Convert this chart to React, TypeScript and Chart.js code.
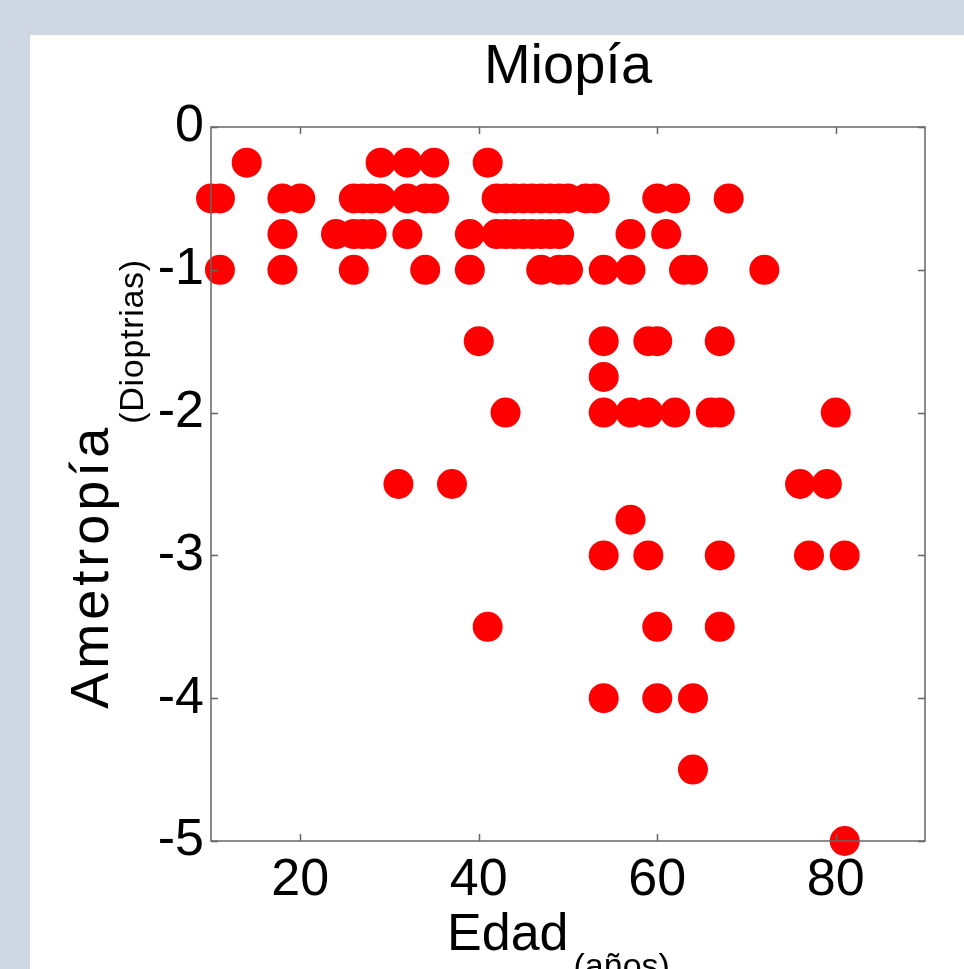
import { useEffect, useRef } from 'react';
import { Chart, registerables } from 'chart.js';

Chart.register(...registerables);

// ---- Text ----
const TITLE = 'Miopía';
const X_LABEL = 'Edad';
const X_SUB = '(años)';
const Y_LABEL = 'Ametropía';
const Y_SUB = '(Dioptrias)';

// ---- Axes ----
const X_MIN = 10;
const X_MAX = 90;
const Y_MIN = -5;
const Y_MAX = 0;
const X_TICKS = [20, 40, 60, 80];
const Y_TICKS = [0, -1, -2, -3, -4, -5];

// ---- Data: ametropía level (D) and the ages (años) observed at it ----
const edadA025 = [14, 29, 32, 35, 41];
const edadA050 = [10, 11, 18, 20, 26, 27, 28, 29, 32, 34, 35, 42, 43, 44, 45, 46, 47, 48, 49, 50, 52, 53, 60, 62, 68];
const edadA075 = [18, 24, 26, 27, 28, 32, 39, 42, 43, 44, 45, 46, 47, 48, 49, 57, 61];
const edadA100 = [11, 18, 26, 34, 39, 47, 49, 50, 54, 57, 63, 64, 72];
const edadA150 = [40, 54, 59, 60, 67];
const edadA175 = [54];
const edadA200 = [43, 54, 57, 59, 62, 66, 67, 80];
const edadA250 = [31, 37, 76, 79];
const edadA275 = [57];
const edadA300 = [54, 59, 67, 77, 81];
const edadA350 = [41, 60, 67];
const edadA400 = [54, 60, 64];
const edadA450 = [64];
const edadA500 = [81];

const niveles = [-0.25, -0.5, -0.75, -1, -1.5, -1.75, -2, -2.5, -2.75, -3, -3.5, -4, -4.5, -5];
const edadesPorNivel = [
  edadA025, edadA050, edadA075, edadA100, edadA150, edadA175, edadA200,
  edadA250, edadA275, edadA300, edadA350, edadA400, edadA450, edadA500,
];

const FONT = "'Liberation Sans', Arial, Helvetica, sans-serif";

const framePlugin = {
  id: 'matlabFrame',
  afterDatasetsDraw(chart: any) {
    const { ctx, chartArea: a, scales } = chart;
    ctx.save();
    ctx.strokeStyle = '#666666';
    ctx.lineWidth = 1.5;
    ctx.strokeRect(a.left, a.top, a.right - a.left, a.bottom - a.top);
    const L = 7;
    ctx.beginPath();
    for (const v of X_TICKS) {
      const x = Math.round(scales.x.getPixelForValue(v)) + 0.5;
      ctx.moveTo(x, a.bottom); ctx.lineTo(x, a.bottom - L);
      ctx.moveTo(x, a.top); ctx.lineTo(x, a.top + L);
    }
    for (const v of Y_TICKS) {
      const y = Math.round(scales.y.getPixelForValue(v)) + 0.5;
      ctx.moveTo(a.left, y); ctx.lineTo(a.left + L, y);
      ctx.moveTo(a.right, y); ctx.lineTo(a.right - L, y);
    }
    ctx.stroke();
    ctx.restore();
  },
  afterDraw(chart: any) {
    const { ctx, chartArea: a } = chart;
    const cx = (a.left + a.right) / 2;
    const cy = (a.top + a.bottom) / 2;
    ctx.save();
    ctx.fillStyle = '#000';
    ctx.textBaseline = 'alphabetic';
    // title
    ctx.font = `56px ${FONT}`;
    ctx.textAlign = 'center';
    ctx.fillText(TITLE, cx, a.top - 44);
    // x label with subscript
    ctx.textAlign = 'left';
    ctx.font = `52px ${FONT}`;
    const wx = ctx.measureText(X_LABEL).width;
    ctx.font = `34px ${FONT}`;
    const wxs = ctx.measureText(X_SUB).width;
    const x0 = cx - (wx + wxs) / 2 - 12;
    const xb = a.bottom + 109;
    ctx.font = `52px ${FONT}`;
    ctx.fillText(X_LABEL, x0, xb);
    ctx.font = `34px ${FONT}`;
    ctx.fillText(X_SUB, x0 + wx + 5, xb + 27);
    // y label with subscript (rotated)
    ctx.translate(a.left - 103, cy);
    ctx.rotate(-Math.PI / 2);
    (ctx as any).letterSpacing = '4px';
    ctx.font = `54px ${FONT}`;
    const wy = ctx.measureText(Y_LABEL).width;
    (ctx as any).letterSpacing = '0.7px';
    ctx.font = `34px ${FONT}`;
    const wys = ctx.measureText(Y_SUB).width;
    const y0 = -(wy + wys) / 2;
    (ctx as any).letterSpacing = '4px';
    ctx.font = `54px ${FONT}`;
    ctx.fillText(Y_LABEL, y0, 0);
    (ctx as any).letterSpacing = '0.7px';
    ctx.font = `34px ${FONT}`;
    ctx.fillText(Y_SUB, y0 + wy, 35);
    (ctx as any).letterSpacing = '0px';
    ctx.restore();
  },
};

export default function App() {
  const ref = useRef<HTMLCanvasElement | null>(null);

  useEffect(() => {
    if (!ref.current) return;
    const points: { x: number; y: number }[] = [];
    niveles.forEach((nivel, i) => {
      edadesPorNivel[i].forEach((edad) => points.push({ x: edad, y: nivel }));
    });

    const chart = new Chart(ref.current, {
      type: 'scatter',
      data: {
        datasets: [
          {
            label: TITLE,
            data: points,
            backgroundColor: '#ff0000',
            borderColor: '#ff0000',
            borderWidth: 0,
            pointRadius: 15,
            pointHoverRadius: 15,
            clip: false as any,
          },
        ],
      },
      options: {
        animation: false,
        responsive: false,
        events: [],
        layout: { padding: { left: 0, right: 39, top: 92, bottom: 0 } },
        plugins: {
          legend: { display: false },
          tooltip: { enabled: false },
          title: { display: false },
        },
        scales: {
          x: {
            type: 'linear',
            min: X_MIN,
            max: X_MAX,
            grid: { display: false, drawTicks: false },
            border: { display: false },
            afterBuildTicks: (s: any) => {
              s.ticks = X_TICKS.map((v) => ({ value: v }));
            },
            afterFit: (s: any) => {
              s.height = 128;
            },
            ticks: {
              color: '#000',
              padding: 8,
              font: { family: FONT, size: 52 },
              maxRotation: 0,
              autoSkip: false,
            },
          },
          y: {
            type: 'linear',
            min: Y_MIN,
            max: Y_MAX,
            grid: { display: false, drawTicks: false },
            border: { display: false },
            afterBuildTicks: (s: any) => {
              s.ticks = Y_TICKS.map((v) => ({ value: v }));
            },
            afterFit: (s: any) => {
              s.width = 181;
            },
            ticks: {
              color: '#000',
              padding: 7,
              font: { family: FONT, size: 52 },
              autoSkip: false,
            },
          },
        },
      },
      plugins: [framePlugin],
    });
    return () => chart.destroy();
  }, []);

  return (
    <div
      style={{
        position: 'fixed',
        left: 0,
        top: 0,
        width: 964,
        height: 969,
        background: '#cfd7e5',
        overflow: 'hidden',
      }}
    >
      <div
        style={{
          position: 'absolute',
          left: 30,
          top: 35,
          width: 934,
          height: 934,
          background: '#ffffff',
        }}
      >
        <canvas ref={ref} width={934} height={934} style={{ display: 'block' }} />
      </div>
    </div>
  );
}
